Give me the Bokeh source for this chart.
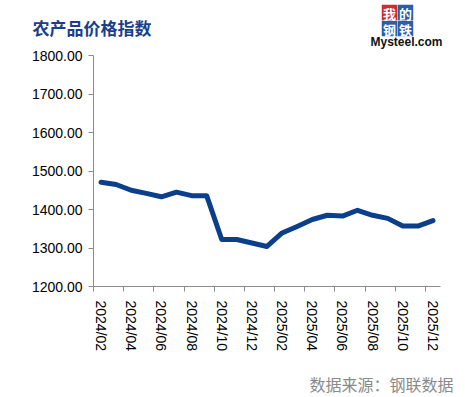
from bokeh.plotting import figure
from bokeh.layouts import column
from bokeh.models import Range1d, FixedTicker, PrintfTickFormatter, ColumnDataSource
from bokeh.core.properties import value
from bokeh.embed import file_html
from bokeh.resources import INLINE

months = ["2024/02", "2024/03", "2024/04", "2024/05", "2024/06", "2024/07", "2024/08",
          "2024/09", "2024/10", "2024/11", "2024/12", "2025/01", "2025/02", "2025/03",
          "2025/04", "2025/05", "2025/06", "2025/07", "2025/08", "2025/09", "2025/10",
          "2025/11", "2025/12"]
values = [1471, 1465, 1450, 1442, 1433, 1445, 1436, 1436, 1322, 1322, 1313, 1304,
          1339, 1356, 1374, 1385, 1383, 1398, 1385, 1377, 1357, 1357, 1371]
y_ticks = [1200, 1300, 1400, 1500, 1600, 1700, 1800]
title_text = "农产品价格指数"
source_text = "数据来源：钢联数据"
logo_chars = ["我", "的", "钢", "铁"]
logo_word = "Mysteel.com"

W = 465
HEAD_H, MAIN_H, FOOT_H = 49, 316, 32


def blank(h):
    """A figure without axes whose frame fills the canvas; pixel coordinates, y downwards."""
    f = figure(width=W, height=h, output_backend="svg", toolbar_location=None,
               x_range=Range1d(0, W), y_range=Range1d(h, 0),
               x_axis_location=None, y_axis_location=None,
               min_border=0, min_border_left=0, min_border_right=0,
               min_border_top=0, min_border_bottom=0)
    f.frame_align = False
    f.outline_line_color = None
    f.background_fill_color = "white"
    f.border_fill_color = "white"
    f.xgrid.visible = False
    f.ygrid.visible = False
    return f


# ---------- header: title + logo ----------
head = blank(HEAD_H)
head.text(x=[32], y=[27], text=[title_text], text_font=value("Noto Sans CJK SC"),
          text_font_style="bold", text_font_size="17px", text_color="#1B3E8A",
          text_baseline="middle", text_align="left")
cell = 16
cx0, cy0 = 381, 4
cell_x = [cx0 + cell / 2, cx0 + cell * 1.5, cx0 + cell / 2, cx0 + cell * 1.5]
cell_y = [cy0 + cell / 2, cy0 + cell / 2, cy0 + cell * 1.5, cy0 + cell * 1.5]
cell_c = ["#D42A2E", "#2D5CA8", "#2D5CA8", "#2D5CA8"]
head.rect(x=cell_x, y=cell_y, width=cell - 0.5, height=cell - 0.5, fill_color=cell_c, line_color=None)
head.text(x=cell_x, y=[v + 1 for v in cell_y], text=logo_chars, text_font=value("Noto Sans CJK SC"),
          text_font_style="bold", text_font_size="13px", text_color="white",
          text_baseline="middle", text_align="center")
head.text(x=[370], y=[41], text=[logo_word], text_font=value("Liberation Sans"),
          text_font_style="bold", text_font_size="12px", text_color="#111111",
          text_baseline="middle", text_align="left")

# ---------- main chart ----------
idx = list(range(len(months)))
src = ColumnDataSource(dict(x=idx, y=values, m=months))

p = figure(width=W, height=MAIN_H, output_backend="svg", toolbar_location=None,
           x_range=Range1d(-0.5, len(months) - 0.5), y_range=Range1d(1200, 1800),
           min_border_left=93, min_border_right=25, min_border_top=6, min_border_bottom=79)
p.frame_align = False
p.background_fill_color = "white"
p.border_fill_color = "white"
p.outline_line_color = None
p.xgrid.visible = False
p.ygrid.visible = False

p.line("x", "y", source=src, line_color="#0B3F8C", line_width=5, line_join="round", line_cap="round")

ya = p.yaxis[0]
ya.ticker = FixedTicker(ticks=y_ticks)
ya.formatter = PrintfTickFormatter(format="%.2f")
ya.axis_line_color = "#8C8C8C"
ya.major_tick_line_color = "#8C8C8C"
ya.major_tick_in = 0
ya.major_tick_out = 5
ya.minor_tick_line_color = None
ya.major_label_text_font = "Liberation Sans"
ya.major_label_text_font_size = "14px"
ya.major_label_text_color = "#000000"
ya.major_label_standoff = 6

xa = p.xaxis[0]
label_pos = idx[::2]
xa.ticker = FixedTicker(ticks=label_pos, minor_ticks=[i - 0.5 for i in label_pos])
xa.major_label_overrides = {i: months[i] for i in label_pos}
xa.major_tick_in = 0
xa.major_tick_out = 0
xa.minor_tick_in = 0
xa.minor_tick_out = 5
xa.minor_tick_line_color = "#8C8C8C"
xa.axis_line_color = "#8C8C8C"
xa.major_label_orientation = "vertical"
xa.major_label_text_font = "Liberation Sans"
xa.major_label_text_font_size = "14px"
xa.major_label_text_color = "#000000"
xa.major_label_standoff = 9

# ---------- footer: source ----------
foot = blank(FOOT_H)
foot.text(x=[453], y=[18], text=[source_text], text_font=value("Noto Sans CJK SC"),
          text_font_size="16px", text_color="#8A8A8A", text_baseline="middle", text_align="right")

layout = column(head, p, foot, spacing=0)
open("out.html", "w").write(file_html(layout, INLINE))
